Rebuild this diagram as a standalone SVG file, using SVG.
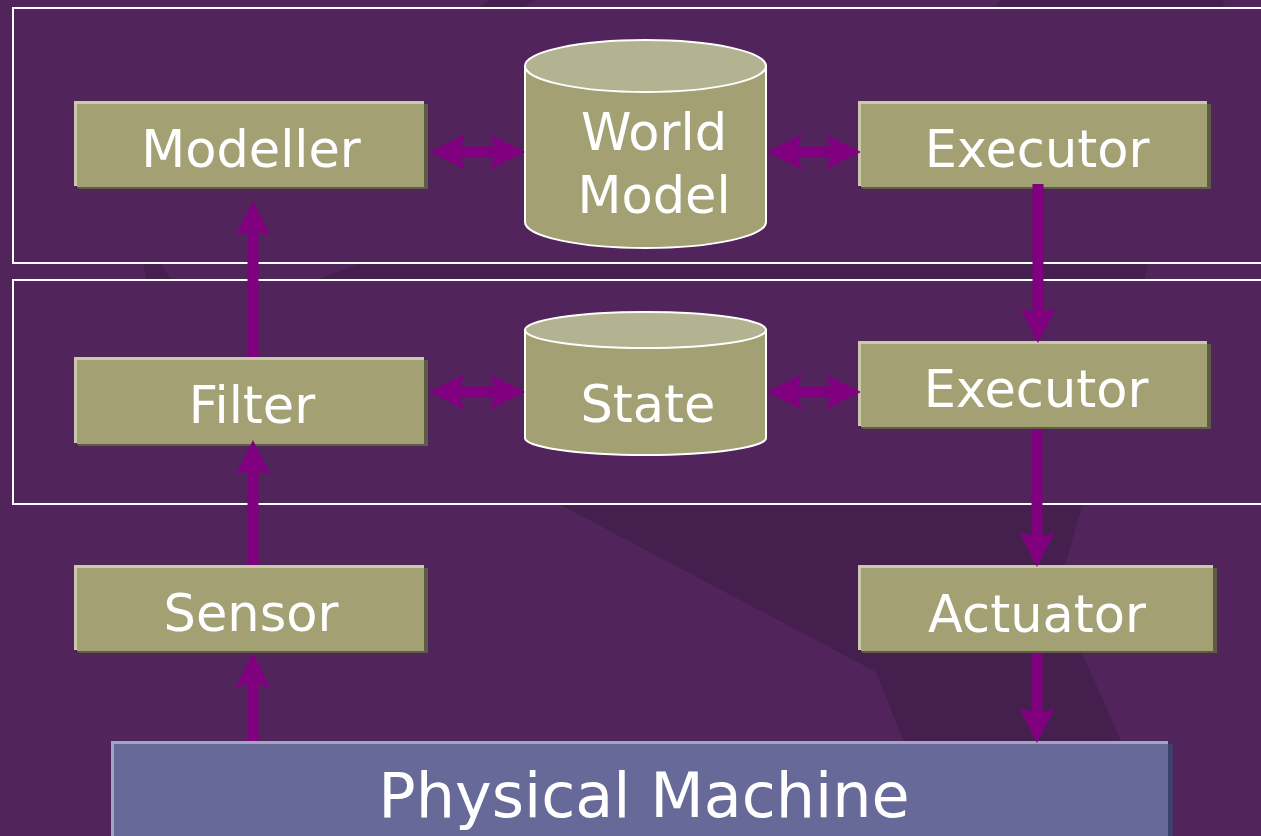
<svg xmlns="http://www.w3.org/2000/svg" width="1261" height="836" viewBox="0 0 1261 836">
  <defs>
    <style>
      .bg { fill: #51245C; }
      .dk { fill: #45204F; }
      .frame { fill: #51245C; stroke: #FFFFFF; stroke-width: 2; }
      .hl { fill: #CBC9AD; }
      .sh { fill: #5E5C42; }
      .bf { fill: #A3A074; }
      .cylb { fill: #A3A074; stroke: #FFFFFF; stroke-width: 2; }
      .cylt { fill: #B3B391; stroke: #FFFFFF; stroke-width: 2; }
      .pmhl { fill: #A3A3C6; }
      .pmsh { fill: #3E406E; }
      .pmbf { fill: #676A98; }
      .lbl { font-family: "DejaVu Sans", "Liberation Sans", sans-serif; font-size: 51px; fill: #FFFFFF; text-anchor: middle; }
      .big { font-size: 62px; }
      .conn { stroke: #800080; stroke-width: 11; fill: none; marker-end: url(#ah); }
      .dbl { marker-start: url(#ah); }
    </style>
    <marker id="ah" viewBox="0 0 35 35" refX="7" refY="17.5" markerWidth="35" markerHeight="35" markerUnits="userSpaceOnUse" orient="auto-start-reverse">
      <path d="M35,17.5 L0,0 L6,17.5 L0,35 Z" fill="#800080"/>
    </marker>
  </defs>

  <!-- background -->
  <rect class="bg" x="0" y="0" width="1261" height="836"/>
  <polygon class="dk" points="490,0 535,0 522,8 478,8"/>
  <polygon class="dk" points="1000,0 1225,0 1222,8 996,8"/>
  <polygon class="dk" points="143,263 160,263 172,281 147,281"/>
  <polygon class="dk" points="362,263 1148,263 1144,281 314,281"/>
  <polygon class="dk" points="557,503 1083,503 1065,565 1083,655 1123,745 905,745 876,672"/>

  <!-- frames -->
  <rect class="frame" x="13" y="8" width="1262" height="255"/>
  <rect class="frame" x="13" y="280" width="1262" height="224"/>

  <!-- nodes -->
  <g id="modeller">
    <rect class="hl" x="74" y="101" width="350" height="85"/>
    <rect class="sh" x="78" y="104" width="350" height="85"/>
    <rect class="bf" x="77" y="104" width="347" height="83"/>
    <text class="lbl" x="251" y="167">Modeller</text>
  </g>

  <g id="world-model">
    <path class="cylb" d="M525,66 L525,222 A120.5,26 0 0 0 766,222 L766,66 Z"/>
    <ellipse class="cylt" cx="645.5" cy="66" rx="120.5" ry="26"/>
    <text class="lbl" x="654" y="150">World</text>
    <text class="lbl" x="654" y="213">Model</text>
  </g>

  <g id="executor-top">
    <rect class="hl" x="858" y="101" width="349" height="85"/>
    <rect class="sh" x="862" y="104" width="349" height="85"/>
    <rect class="bf" x="861" y="104" width="346" height="83"/>
    <text class="lbl" x="1037" y="167">Executor</text>
  </g>

  <g id="filter">
    <rect class="hl" x="74" y="357" width="350" height="86"/>
    <rect class="sh" x="78" y="360" width="350" height="86"/>
    <rect class="bf" x="77" y="360" width="347" height="84"/>
    <text class="lbl" x="252" y="423">Filter</text>
  </g>

  <g id="state">
    <path class="cylb" d="M525,330 L525,438 A120.5,17 0 0 0 766,438 L766,330 Z"/>
    <ellipse class="cylt" cx="645.5" cy="330" rx="120.5" ry="18"/>
    <text class="lbl" x="648" y="422">State</text>
  </g>

  <g id="executor-mid">
    <rect class="hl" x="858" y="341" width="349" height="85"/>
    <rect class="sh" x="862" y="344" width="349" height="85"/>
    <rect class="bf" x="861" y="344" width="346" height="83"/>
    <text class="lbl" x="1036" y="407">Executor</text>
  </g>

  <g id="sensor">
    <rect class="hl" x="74" y="565" width="350" height="85"/>
    <rect class="sh" x="78" y="568" width="350" height="85"/>
    <rect class="bf" x="77" y="568" width="347" height="83"/>
    <text class="lbl" x="251" y="631">Sensor</text>
  </g>

  <g id="actuator">
    <rect class="hl" x="858" y="565" width="355" height="85"/>
    <rect class="sh" x="862" y="568" width="355" height="85"/>
    <rect class="bf" x="861" y="568" width="352" height="83"/>
    <text class="lbl" x="1037" y="632">Actuator</text>
  </g>

  <g id="physical-machine">
    <rect class="pmhl" x="111" y="741" width="1057" height="100"/>
    <rect class="pmsh" x="116" y="744" width="1057" height="100"/>
    <rect class="pmbf" x="114" y="744" width="1054" height="100"/>
    <text class="lbl big" x="644" y="817">Physical Machine</text>
  </g>

  <!-- connectors -->
  <g id="connectors">
    <line class="conn dbl" x1="458" y1="152" x2="497" y2="152"/>
    <line class="conn dbl" x1="795" y1="152" x2="833" y2="152"/>
    <line class="conn" x1="1038" y1="184" x2="1038" y2="315"/>
    <line class="conn" x1="253" y1="357" x2="253" y2="229"/>
    <line class="conn dbl" x1="457" y1="392" x2="497" y2="392"/>
    <line class="conn dbl" x1="795" y1="392" x2="833" y2="392"/>
    <line class="conn" x1="1037" y1="429" x2="1037" y2="539"/>
    <line class="conn" x1="1037" y1="653" x2="1037" y2="715"/>
    <line class="conn" x1="253" y1="741" x2="253" y2="681"/>
    <line class="conn" x1="253" y1="565" x2="253" y2="468"/>
  </g>
</svg>
